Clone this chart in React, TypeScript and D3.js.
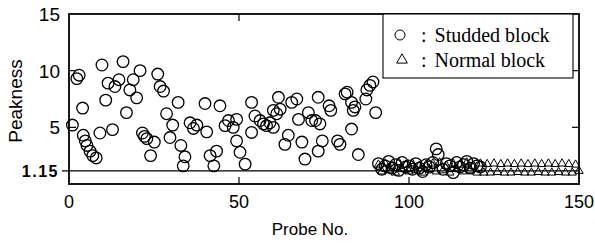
import * as d3 from 'd3';

// Studded block (circles): probe number and peakness
const studdedProbe = [
  1, 2.3, 3, 4, 4.2, 4.8, 5.3, 6.2, 7, 8, 9.1, 9.7, 10.8, 11.5, 12.8, 13.5, 14.7, 15.9, 16.9, 17.9,
  18.9, 19.9, 20.9, 21.6, 22.2, 22.9, 24, 25.1, 26.1, 26.8, 27.8, 28.7, 29.7, 30.5, 32.1, 32.9, 34.1, 33.6, 35.6, 36.6,
  37.6, 40, 40.5, 41.5, 42.6, 43.4, 44.4, 45.9, 46.9, 48.3, 49.3, 49.3, 50.3, 51.8, 53.7, 53.7, 54.7, 56.2, 57.2, 58.1,
  59.1, 60.1, 60.1, 61.1, 62.1, 61.6, 63.5, 64.5, 65.5, 67, 67.5, 68.5, 69.4, 70.4, 71.4, 73.3, 73.3, 72.5, 73.8, 74.5,
  76.5, 77, 79, 79.7, 81.2, 81.8, 83.1, 84.1, 83.6, 83.1, 85.1, 87.6, 88.5, 89.4, 87.3, 90.2,
  91, 92, 93, 94, 95, 96, 97, 98, 99, 100, 101, 102, 103, 104, 105, 106, 107, 108, 108.6, 110,
  111, 112, 113, 114, 115, 116, 117, 118, 119, 120, 121,
];
const studdedPeak = [
  5.2, 9.3, 9.6, 6.7, 4.3, 3.8, 3.4, 2.9, 2.5, 2.3, 4.5, 10.5, 7.4, 8.9, 4.8, 8.6, 9.2, 10.8, 6.3, 8.3,
  9.2, 7.6, 10.0, 4.5, 4.2, 4.0, 2.5, 3.7, 9.7, 8.6, 8.2, 6.2, 4.1, 5.2, 7.2, 3.4, 2.4, 1.6, 5.4, 4.9,
  5.2, 7.1, 4.6, 2.5, 1.6, 2.9, 6.9, 5.15, 5.6, 5.0, 5.7, 3.8, 2.8, 1.75, 4.55, 7.2, 6.0, 5.6, 5.3, 5.15,
  5.4, 5.0, 6.5, 6.2, 6.6, 7.65, 3.5, 4.3, 7.2, 7.5, 5.7, 3.7, 2.2, 6.3, 5.6, 7.65, 2.9, 5.6, 5.3, 3.8,
  6.9, 6.5, 3.8, 3.5, 7.95, 8.1, 7.2, 6.8, 6.5, 4.85, 2.6, 8.3, 8.7, 9.0, 7.5, 6.3,
  1.8, 1.3, 1.6, 2.0, 1.4, 1.7, 1.2, 1.9, 1.5, 1.6, 1.3, 1.8, 1.4, 1.1, 1.7, 1.5, 1.9, 3.1, 2.6, 1.3,
  1.8, 1.6, 1.0, 1.9, 1.5, 1.7, 2.0, 1.4, 1.8, 1.6, 1.5,
];

// Normal block (triangles)
const normalProbe = d3.range(91, 151);
const normalPeak = [
  1.7, 1.1, 1.8, 1.2, 1.6, 1.0, 1.9, 1.3, 1.7, 1.1, 1.8, 1.2, 1.6, 1.0, 1.7, 1.3, 1.8, 1.1, 1.9, 1.2,
  1.6, 1.0, 1.8, 1.3, 1.7, 1.1, 1.9, 1.2, 1.6, 1.0, 1.8, 1.0, 1.75, 1.0, 1.8, 1.05, 1.75, 1.0, 1.8, 1.0,
  1.75, 1.05, 1.8, 1.0, 1.75, 1.0, 1.8, 1.05, 1.75, 1.0, 1.8, 1.0, 1.75, 1.05, 1.8, 1.0, 1.75, 1.0, 1.7, 1.15,
];

const xTicks = [0, 50, 100, 150];
const yTicks = [5, 10, 15];
const threshold = 1.15;
const legendLabels = ['Studded block', 'Normal block'];

const W = 595;
const H = 244;
const left = 69, right = 579, top = 14, bottom = 184;

export default function App() {
  const x = d3.scaleLinear().domain([0, 150]).range([left, right]);
  const y = d3.scaleLinear().domain([0, 15]).range([bottom, top]);
  const sans = 'Liberation Sans, Arial, sans-serif';
  const serif = 'Liberation Serif, Times New Roman, serif';
  const tri = d3.symbol().type(d3.symbolTriangle).size(30)();
  const triLegend = d3.symbol().type(d3.symbolTriangle).size(50)();

  return (
    <svg width={W} height={H} style={{ position: 'absolute', left: 0, top: 0, background: '#fff' }}>
      {/* threshold line with outward tick */}
      <line x1={left - 7} x2={right} y1={y(threshold)} y2={y(threshold)} stroke="#000" strokeWidth={1.3} />

      {normalProbe.map((p, i) => (
        <path key={'t' + i} d={tri} transform={`translate(${x(p)},${y(normalPeak[i])})`}
          fill="none" stroke="#000" strokeWidth={1} />
      ))}
      {studdedProbe.map((p, i) => (
        <circle key={'c' + i} cx={x(p)} cy={y(studdedPeak[i])} r={5.8}
          fill="none" stroke="#000" strokeWidth={1.3} />
      ))}

      {/* frame */}
      <rect x={left} y={top} width={right - left} height={bottom - top} fill="none" stroke="#000" strokeWidth={1.8} />

      {/* inward ticks */}
      {xTicks.slice(1, -1).map(t => (
        <g key={'xt' + t}>
          <line x1={x(t)} x2={x(t)} y1={bottom} y2={bottom - 7} stroke="#000" strokeWidth={1.2} />
          <line x1={x(t)} x2={x(t)} y1={top} y2={top + 7} stroke="#000" strokeWidth={1.2} />
        </g>
      ))}
      {yTicks.slice(0, -1).map(t => (
        <g key={'yt' + t}>
          <line x1={right} x2={right - 7} y1={y(t)} y2={y(t)} stroke="#000" strokeWidth={1.2} />
          <line x1={left} x2={left + 7} y1={y(t)} y2={y(t)} stroke="#000" strokeWidth={1.2} />
        </g>
      ))}

      {/* tick labels */}
      {xTicks.map(t => (
        <text key={'xl' + t} x={x(t)} y={208} textAnchor="middle" fontFamily={sans} fontSize={18}>{t}</text>
      ))}
      {yTicks.map(t => (
        <text key={'yl' + t} x={60} y={y(t) + 7} textAnchor="end" fontFamily={sans} fontSize={19}>{t}</text>
      ))}
      <text x={59} y={y(threshold) + 6} textAnchor="end" fontFamily={sans} fontSize={16} fontWeight="bold" letterSpacing={1.5}>
        {threshold}
      </text>

      {/* axis titles */}
      <text x={310} y={235} textAnchor="middle" fontFamily={sans} fontSize={17}>Probe No.</text>
      <text transform="translate(22,101) rotate(-90)" textAnchor="middle" fontFamily={sans} fontSize={19}>Peakness</text>

      {/* legend */}
      <rect x={383} y={top} width={190} height={64} fill="#fff" stroke="#000" strokeWidth={1.1} />
      <circle cx={400} cy={35} r={5} fill="none" stroke="#000" strokeWidth={1} />
      <path d={triLegend} transform="translate(402,60)" fill="none" stroke="#000" strokeWidth={1} />
      {legendLabels.map((l, i) => (
        <text key={l} x={421} y={42 + i * 25} fontFamily={serif} fontSize={20}>
          <tspan>:</tspan>
          <tspan dx={8}>{l}</tspan>
        </text>
      ))}
    </svg>
  );
}
